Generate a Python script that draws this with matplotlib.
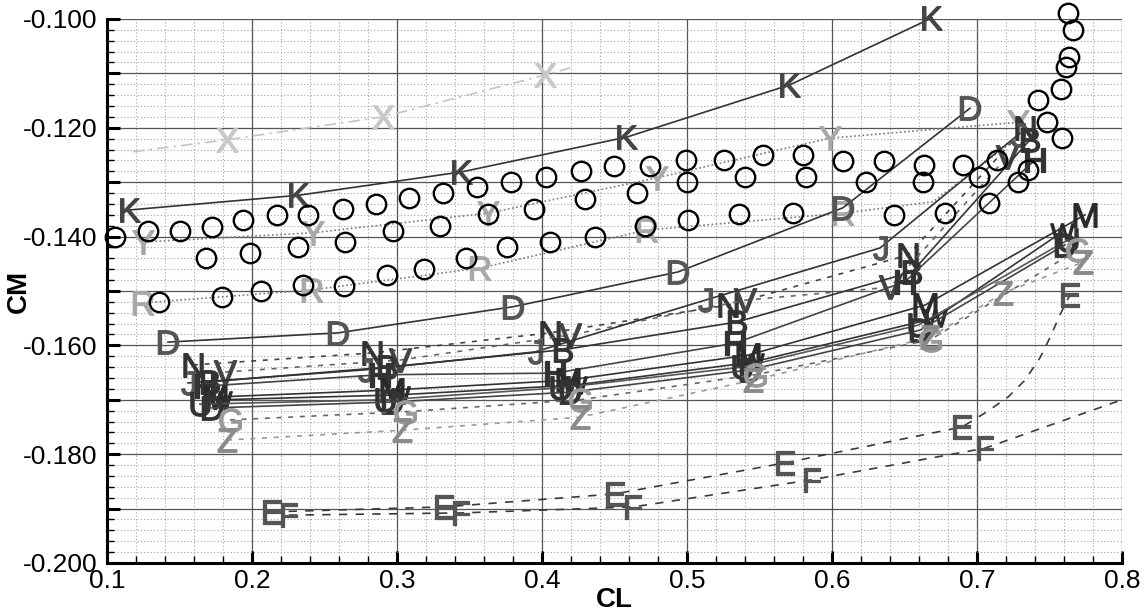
import matplotlib
matplotlib.use("Agg")
import matplotlib.pyplot as plt
from matplotlib.ticker import MultipleLocator, FuncFormatter

plt.rcParams["font.family"] = ["Liberation Sans", "DejaVu Sans"]
plt.rcParams["mathtext.fontset"] = "custom"
plt.rcParams["mathtext.rm"] = "Liberation Sans"

# experiment (open circles)
exp_cl = [0.1055, 0.1283, 0.1503, 0.1724, 0.1938, 0.2172, 0.2386, 0.2628, 0.2855,
          0.3083, 0.3317, 0.3552, 0.3786, 0.4028, 0.4269, 0.4497, 0.4745, 0.4993,
          0.5255, 0.5524, 0.5800, 0.6076, 0.6359, 0.6634, 0.6903, 0.7138,
          0.1683, 0.1986, 0.2317, 0.2641, 0.2972, 0.3297, 0.3628, 0.3945, 0.4297,
          0.4655, 0.5000, 0.5400, 0.5821, 0.6234, 0.6628, 0.7014, 0.7283,
          0.1359, 0.1793, 0.2062, 0.2352, 0.2634, 0.2931, 0.3186, 0.3476, 0.3759,
          0.4055, 0.4366, 0.4710, 0.5007, 0.5359, 0.5731, 0.6428, 0.6779, 0.7083,
          0.7352, 0.7421, 0.7483, 0.7579, 0.7586, 0.7614, 0.7634, 0.7628, 0.7662]
exp_cm = [-0.1401, -0.1390, -0.1390, -0.1382, -0.1369, -0.1360, -0.1360, -0.1349, -0.1340,
          -0.1329, -0.1320, -0.1309, -0.1300, -0.1290, -0.1279, -0.1270, -0.1270, -0.1259,
          -0.1259, -0.1250, -0.1250, -0.1261, -0.1261, -0.1268, -0.1268, -0.1259,
          -0.1439, -0.1430, -0.1419, -0.1410, -0.1390, -0.1381, -0.1358, -0.1349, -0.1331,
          -0.1320, -0.1300, -0.1290, -0.1290, -0.1300, -0.1300, -0.1290, -0.1300,
          -0.1520, -0.1511, -0.1500, -0.1489, -0.1491, -0.1471, -0.1460, -0.1439, -0.1419,
          -0.1410, -0.1401, -0.1381, -0.1369, -0.1358, -0.1357, -0.1360, -0.1357, -0.1338,
          -0.1278, -0.1149, -0.1189, -0.1129, -0.1219, -0.1088, -0.1070, -0.0989, -0.1020]

k_cl = [0.1159, 0.2324, 0.3448, 0.4586, 0.5710, 0.6690]
k_cm = [-0.1351, -0.1324, -0.1281, -0.1217, -0.1121, -0.0998]

x_cl = [0.1179, 0.1828, 0.2903, 0.4021, 0.4193]
x_cm = [-0.1244, -0.1222, -0.1180, -0.1103, -0.1090]

y_cl = [0.1248, 0.2421, 0.3628, 0.4793, 0.5986, 0.7283]
y_cm = [-0.1410, -0.1393, -0.1357, -0.1292, -0.1219, -0.1190]

r_cl = [0.1248, 0.2414, 0.3572, 0.4724, 0.6076, 0.6697, 0.7262]
r_cm = [-0.1522, -0.1498, -0.1458, -0.1388, -0.1357, -0.1336, -0.1222]

d_cl = [0.1421, 0.2593, 0.3800, 0.4938, 0.6076, 0.6952]
d_cm = [-0.1594, -0.1577, -0.1529, -0.1465, -0.1347, -0.1164]

e_cl = [0.2138, 0.3324, 0.4503, 0.5676, 0.6897, 0.7069, 0.7214, 0.7331, 0.7434,
        0.7503, 0.7572, 0.7641]
e_cm = [-0.1906, -0.1897, -0.1873, -0.1816, -0.1750, -0.1722, -0.1695, -0.1664, -0.1623,
        -0.1586, -0.1544, -0.1507]

f_cl = [0.2255, 0.3441, 0.4628, 0.5862, 0.7055, 0.8000]
f_cm = [-0.1912, -0.1908, -0.1897, -0.1847, -0.1789, -0.1700]

# computed cases (bundle)
n_cl = [0.1593, 0.2828, 0.4055, 0.5283, 0.6524, 0.7331]
n_cm = [-0.1636, -0.1614, -0.1577, -0.1526, -0.1434, -0.1200]
v_cl = [0.1814, 0.3021, 0.4193, 0.5400, 0.6400, 0.7207]
v_cm = [-0.1649, -0.1627, -0.1581, -0.1517, -0.1493, -0.1254]
j_cl = [0.1559, 0.2779, 0.3952, 0.5124, 0.6331, 0.7283]
j_cm = [-0.1669, -0.1645, -0.1612, -0.1517, -0.1421, -0.1213]
b_cl = [0.1710, 0.2931, 0.4145, 0.5345, 0.6552, 0.7366]
b_cm = [-0.1667, -0.1640, -0.1608, -0.1557, -0.1465, -0.1222]
h_cl = [0.1676, 0.2883, 0.4090, 0.5331, 0.6503, 0.7400]
h_cm = [-0.1675, -0.1654, -0.1651, -0.1596, -0.1483, -0.1259]
m_cl = [0.1745, 0.2966, 0.4179, 0.5421, 0.6641, 0.7745]
m_cm = [-0.1695, -0.1682, -0.1664, -0.1618, -0.1526, -0.1360]
w_cl = [0.1779, 0.3007, 0.4228, 0.5448, 0.6710, 0.7586]
w_cm = [-0.1700, -0.1691, -0.1673, -0.1631, -0.1550, -0.1392]
u_cl = [0.1641, 0.2917, 0.4124, 0.5379, 0.6593, 0.7628]
u_cm = [-0.1708, -0.1700, -0.1678, -0.1640, -0.1563, -0.1406]
g_cl = [0.1724, 0.2966, 0.4193, 0.5434, 0.6607, 0.7607]
g_cm = [-0.1715, -0.1704, -0.1686, -0.1645, -0.1572, -0.1415]
c_cl = [0.1848, 0.3055, 0.4262, 0.5469, 0.6676, 0.7690]
c_cm = [-0.1737, -0.1722, -0.1700, -0.1654, -0.1590, -0.1425]
z_cl = [0.1828, 0.3034, 0.4262, 0.5455, 0.6676, 0.7179, 0.7731]
z_cm = [-0.1774, -0.1756, -0.1732, -0.1664, -0.1585, -0.1504, -0.1447]

fig = plt.figure(figsize=(11.45, 6.14), dpi=100)
ax = fig.add_axes([0.0934, 0.0831, 0.8865, 0.886])


def curve(cl, cm, letter, color, ls, mcolor=None, every=None, lw=1.2, ms=17):
    mc = mcolor or color
    ax.plot(cl, cm, color=color, ls=ls, lw=lw, marker=r"$\mathrm{%s}$" % letter,
            ms=ms, mfc=mc, mec=mc, mew=0.9, markevery=every, clip_on=False, zorder=3)


curve(x_cl, x_cm, "X", "#c4c4c4", (0, (7, 3, 1.5, 3)), mcolor="#c8c8c8", every=[1, 2, 3])
curve(k_cl, k_cm, "K", "#333333", "-", mcolor="#444444")
curve(y_cl, y_cm, "Y", "#7a7a7a", (0, (1, 1.5)), mcolor="#a8a8a8")
curve(r_cl, r_cm, "R", "#7a7a7a", (0, (1, 1.5)), mcolor="#a8a8a8", every=[0, 1, 2, 3, 4])
curve(d_cl, d_cm, "D", "#333333", "-", mcolor="#555555")
curve(e_cl, e_cm, "E", "#3a3a3a", (0, (5, 5)), mcolor="#555555", every=[0, 1, 2, 3, 4, 11])
curve(f_cl, f_cm, "F", "#3a3a3a", (0, (5, 5)), mcolor="#555555", every=[0, 1, 2, 3, 4])

curve(n_cl, n_cm, "N", "#444444", (0, (3, 4)), mcolor="#333333")
curve(v_cl, v_cm, "V", "#666666", (0, (3, 4)), mcolor="#444444")
curve(j_cl, j_cm, "J", "#333333", "-", mcolor="#555555")
curve(b_cl, b_cm, "B", "#333333", "-", mcolor="#333333")
curve(h_cl, h_cm, "H", "#444444", "-", mcolor="#333333")
curve(m_cl, m_cm, "M", "#333333", "-", mcolor="#2a2a2a")
curve(w_cl, w_cm, "W", "#333333", "-", mcolor="#2a2a2a")
curve(u_cl, u_cm, "U", "#555555", "-", mcolor="#333333")
curve(g_cl, g_cm, "D", "#444444", "-", mcolor="#333333")
curve(c_cl, c_cm, "G", "#666666", (0, (3, 4)), mcolor="#9a9a9a")
curve(z_cl, z_cm, "Z", "#9a9a9a", (0, (3, 4)), mcolor="#8a8a8a")

ax.plot(exp_cl, exp_cm, ls="none", marker="o", ms=14, mfc="none", mec="black",
        mew=1.7, clip_on=False, zorder=4)

ax.set_xlim(0.1, 0.8)
ax.set_ylim(-0.2, -0.1)
ax.xaxis.set_major_locator(MultipleLocator(0.1))
ax.xaxis.set_minor_locator(MultipleLocator(0.02))
ax.yaxis.set_major_locator(MultipleLocator(0.01))
ax.yaxis.set_minor_locator(MultipleLocator(0.002))
ax.xaxis.set_major_formatter(FuncFormatter(lambda v, p: "%.1f" % v))
ax.yaxis.set_major_formatter(
    FuncFormatter(lambda v, p: "%.3f" % v if round(abs(v) * 100) % 2 == 0 else ""))

ax.grid(True, which="major", color="#555555", lw=0.9, ls="-")
ax.grid(True, which="minor", color="#a5a5a5", lw=0.8, ls=(0, (1, 2)))
ax.set_axisbelow(True)

ax.tick_params(which="major", direction="in", length=9, width=2.2, labelsize=19,
               pad=4, top=False, right=False)
ax.tick_params(which="minor", direction="in", length=5, width=1, top=False, right=False)
ax.tick_params(axis="y", which="major", pad=7)

for side in ["top", "right"]:
    ax.spines[side].set_visible(False)
for side in ["left", "bottom"]:
    ax.spines[side].set_linewidth(2.2)

ax.set_xlabel("CL", fontsize=20, fontweight="bold")
ax.set_ylabel("CM", fontsize=20, fontweight="bold")
ax.xaxis.set_label_coords(0.5, -0.045)
ax.yaxis.set_label_coords(-0.074, 0.5)

fig.savefig("out.png", dpi=100)
